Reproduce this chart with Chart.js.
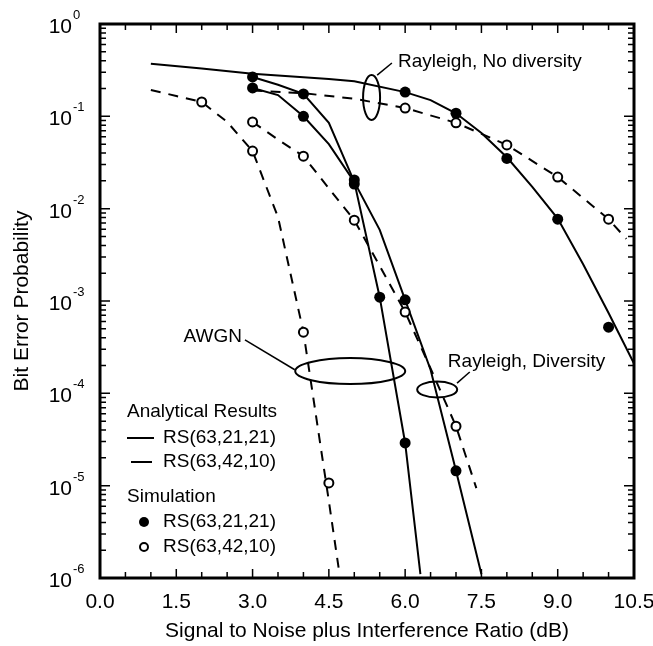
<!DOCTYPE html>
<html>
<head>
<meta charset="utf-8">
<title>Bit Error Probability vs SNIR</title>
<script src="https://cdn.jsdelivr.net/npm/chart.js@4.4.1/dist/chart.umd.min.js"></script>
<style>
  html, body { margin: 0; padding: 0; background: #fff; }
  #wrap { width: 653px; height: 646px; }
</style>
</head>
<body>
<div id="wrap"><canvas id="berChart" width="653" height="646"></canvas></div>
<script>
const FONT = '"Liberation Sans", Arial, Helvetica, sans-serif';

// analytical results, RS(63,21,21) - solid
const noDiv21X = [1.0, 2.0, 3.0, 4.5, 5.0, 6.0, 6.5, 7.0, 7.5, 8.0, 8.5, 9.0, 9.5, 10.0, 10.5];
const noDiv21Y = [0.37, 0.33, 0.29, 0.254, 0.24, 0.183, 0.15, 0.108, 0.066, 0.036, 0.0172, 0.0078, 0.0025, 0.00074, 0.00021];
const div21X = [3.0, 3.5, 4.0, 4.5, 5.0, 5.5, 6.0, 6.5, 7.0, 7.5];
const div21Y = [0.267, 0.22, 0.175, 0.085, 0.0195, 0.0059, 0.00103, 0.00018, 1.45e-5, 1.1e-6];
const awgn21X = [3.0, 3.5, 4.0, 4.5, 5.0, 5.5, 6.0, 6.3];
const awgn21Y = [0.203, 0.17, 0.10, 0.05, 0.0195, 0.0011, 2.9e-5, 1.1e-6];

// analytical results, RS(63,42,10) - dashed
const noDiv42X = [3.0, 4.0, 5.0, 6.0, 7.0, 8.0, 9.0, 10.0, 10.35];
const noDiv42Y = [0.19, 0.178, 0.155, 0.123, 0.085, 0.049, 0.022, 0.0077, 0.0047];
const div42X = [3.0, 3.5, 4.0, 4.5, 5.0, 5.5, 6.0, 6.5, 7.0, 7.4];
const div42Y = [0.087, 0.056, 0.037, 0.0166, 0.0075, 0.0024, 0.00076, 0.000186, 4.4e-5, 9.4e-6];
const awgn42X = [1.0, 1.5, 2.0, 2.5, 3.0, 3.5, 4.0, 4.5, 4.7];
const awgn42Y = [0.193, 0.166, 0.143, 0.087, 0.042, 0.0081, 0.00046, 6.8e-6, 1.2e-6];

// simulation, RS(63,21,21) - filled dots
const sim21X = [3.0, 3.0, 4.0, 4.0, 5.0, 5.0, 5.5, 6.0, 6.0, 7.0, 6.0, 7.0, 8.0, 9.0, 10.0];
const sim21Y = [0.267, 0.203, 0.175, 0.10, 0.0205, 0.0185, 0.0011, 0.00103, 2.9e-5, 1.45e-5, 0.183, 0.108, 0.035, 0.0077, 0.00052];
// simulation, RS(63,42,10) - open dots
const sim42X = [2.0, 3.0, 3.0, 4.0, 4.0, 4.5, 5.0, 6.0, 7.0, 6.0, 7.0, 8.0, 9.0, 10.0];
const sim42Y = [0.143, 0.087, 0.042, 0.037, 0.00046, 1.07e-5, 0.0075, 0.00076, 4.4e-5, 0.123, 0.085, 0.049, 0.022, 0.0077];

const yDecades = [1, 1e-1, 1e-2, 1e-3, 1e-4, 1e-5, 1e-6];
const yExponents = ['0', '-1', '-2', '-3', '-4', '-5', '-6'];

// callouts, anchored in data units
const notes = [
  { text: 'Rayleigh, No diversity', x: 5.86, y: 0.39, align: 'left' },
  { text: 'AWGN', x: 2.79, y: 4.1e-4, align: 'right' },
  { text: 'Rayleigh, Diversity', x: 6.84, y: 2.2e-4, align: 'left' }
];
const rings = [
  { x: 5.34, y: 0.16, rx: 8.5, ry: 22.5 },
  { x: 4.92, y: 1.74e-4, rx: 55, ry: 13 },
  { x: 6.63, y: 1.1e-4, rx: 20, ry: 8 }
];
const leaders = [
  [5.45, 0.28, 5.74, 0.378],
  [2.85, 3.8e-4, 3.83, 1.8e-4],
  [7.02, 1.29e-4, 7.27, 1.7e-4]
];

const pts = (xs, ys) => xs.map((v, i) => ({ x: v, y: ys[i] }));

function curve(xs, ys, dashed) {
  return {
    data: pts(xs, ys), showLine: true, pointRadius: 0, borderColor: '#000',
    borderWidth: 2, borderDash: dashed ? [10, 8] : [], tension: 0, order: 2
  };
}

const framePlugin = {
  id: 'frame',
  afterDatasetsDraw(chart) {
    const { ctx, chartArea: a, scales: { x, y } } = chart;
    ctx.save();
    ctx.strokeStyle = '#000';
    ctx.fillStyle = '#000';

    // inward ticks on all four sides
    ctx.lineWidth = 1.5;
    ctx.beginPath();
    for (let i = 0; i <= 21; i++) {
      const v = i * 0.5;
      const px = x.getPixelForValue(v);
      const len = i % 3 === 0 ? 9 : 6;
      ctx.moveTo(px, a.bottom); ctx.lineTo(px, a.bottom - len);
      ctx.moveTo(px, a.top); ctx.lineTo(px, a.top + len);
    }
    for (let e = -6; e <= 0; e++) {
      for (let m = 1; m <= 9; m++) {
        if (e === 0 && m > 1) break;
        const py = y.getPixelForValue(m * Math.pow(10, e));
        const len = m === 1 ? 10 : 6;
        ctx.moveTo(a.left, py); ctx.lineTo(a.left + len, py);
        ctx.moveTo(a.right, py); ctx.lineTo(a.right - len, py);
      }
    }
    ctx.stroke();

    ctx.lineWidth = 3;
    ctx.strokeRect(a.left, a.top, a.right - a.left, a.bottom - a.top);

    // y tick labels as 10 with a raised exponent
    yDecades.forEach((v, i) => {
      const py = y.getPixelForValue(v);
      ctx.font = '21px ' + FONT;
      ctx.textAlign = 'right';
      ctx.textBaseline = 'alphabetic';
      ctx.fillText('10', a.left - 28, py + 9);
      ctx.font = '13px ' + FONT;
      ctx.textAlign = 'left';
      ctx.fillText(yExponents[i], a.left - 27, py - 5);
    });

    // callouts
    ctx.font = '19px ' + FONT;
    ctx.textBaseline = 'middle';
    notes.forEach(n => {
      ctx.textAlign = n.align;
      ctx.fillText(n.text, x.getPixelForValue(n.x), y.getPixelForValue(n.y));
    });
    ctx.lineWidth = 2;
    rings.forEach(r => {
      ctx.beginPath();
      ctx.ellipse(x.getPixelForValue(r.x), y.getPixelForValue(r.y), r.rx, r.ry, 0, 0, Math.PI * 2);
      ctx.stroke();
    });
    ctx.lineWidth = 1.5;
    leaders.forEach(l => {
      ctx.beginPath();
      ctx.moveTo(x.getPixelForValue(l[0]), y.getPixelForValue(l[1]));
      ctx.lineTo(x.getPixelForValue(l[2]), y.getPixelForValue(l[3]));
      ctx.stroke();
    });

    // legend block, lower left
    const lx = a.left + 27, tx = a.left + 63;
    ctx.textAlign = 'left';
    ctx.fillText('Analytical Results', lx, a.bottom - 166);
    ctx.lineWidth = 2;
    ctx.beginPath();
    ctx.moveTo(lx, a.bottom - 140); ctx.lineTo(lx + 27, a.bottom - 140);
    ctx.moveTo(lx + 4, a.bottom - 116); ctx.lineTo(lx + 25, a.bottom - 116);
    ctx.stroke();
    ctx.fillText('RS(63,21,21)', tx, a.bottom - 140);
    ctx.fillText('RS(63,42,10)', tx, a.bottom - 116);
    ctx.fillText('Simulation', lx, a.bottom - 81);
    ctx.beginPath();
    ctx.arc(lx + 17, a.bottom - 56, 5, 0, Math.PI * 2);
    ctx.fill();
    ctx.beginPath();
    ctx.arc(lx + 17, a.bottom - 31, 4, 0, Math.PI * 2);
    ctx.stroke();
    ctx.fillText('RS(63,21,21)', tx, a.bottom - 56);
    ctx.fillText('RS(63,42,10)', tx, a.bottom - 31);
    ctx.restore();
  }
};

new Chart(document.getElementById('berChart'), {
  type: 'scatter',
  data: {
    datasets: [
      { data: pts(sim21X, sim21Y), pointRadius: 5.5, pointBackgroundColor: '#000', pointBorderWidth: 0, order: 0 },
      { data: pts(sim42X, sim42Y), pointRadius: 4.5, pointBackgroundColor: '#fff', pointBorderColor: '#000', pointBorderWidth: 2, order: 1 },
      curve(noDiv21X, noDiv21Y, false),
      curve(div21X, div21Y, false),
      curve(awgn21X, awgn21Y, false),
      curve(noDiv42X, noDiv42Y, true),
      curve(div42X, div42Y, true),
      curve(awgn42X, awgn42Y, true)
    ]
  },
  options: {
    responsive: false,
    animation: false,
    events: [],
    layout: { autoPadding: false, padding: { top: 24, right: 19, left: 0, bottom: 0 } },
    plugins: { legend: { display: false }, tooltip: { enabled: false } },
    scales: {
      x: {
        type: 'linear', min: 0, max: 10.5,
        ticks: { stepSize: 1.5, callback: v => v.toFixed(1), color: '#000', font: { size: 21, family: FONT }, padding: 12, maxRotation: 0, autoSkip: false },
        grid: { display: false, drawTicks: false },
        border: { display: false },
        title: { display: true, text: 'Signal to Noise plus Interference Ratio (dB)', color: '#000', font: { size: 21, family: FONT }, padding: { top: 0, bottom: 2 } },
        afterFit: s => { s.height = 68; s.paddingLeft = 0; s.paddingRight = 0; }
      },
      y: {
        type: 'logarithmic', min: 1e-6, max: 1,
        ticks: { display: false },
        grid: { display: false, drawTicks: false },
        border: { display: false },
        title: { display: true, text: 'Bit Error Probability', color: '#000', font: { size: 21, family: FONT }, padding: { top: 10, bottom: 0 } },
        afterFit: s => { s.width = 100; s.paddingTop = 0; s.paddingBottom = 0; }
      }
    }
  },
  plugins: [framePlugin]
});
</script>
</body>
</html>
